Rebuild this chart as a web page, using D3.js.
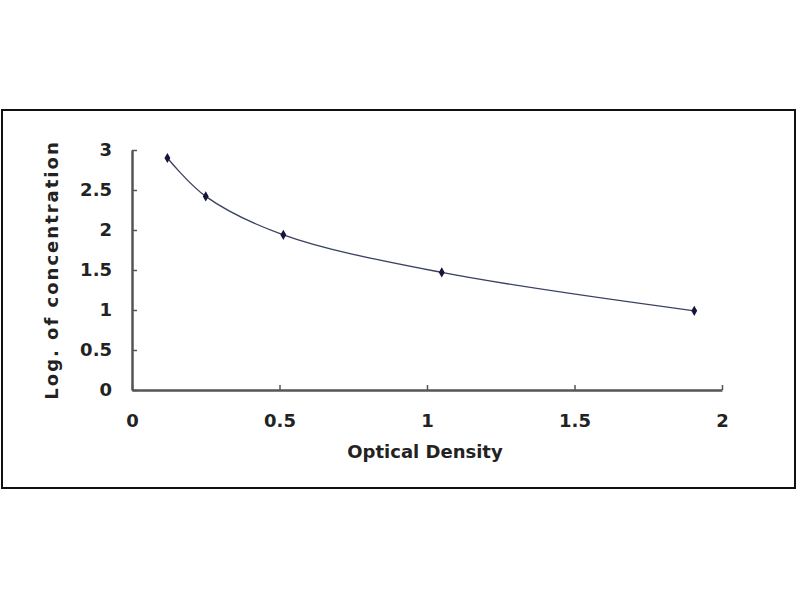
<!DOCTYPE html>
<html>
<head>
<meta charset="utf-8">
<script src="https://cdn.jsdelivr.net/npm/d3@7"></script>
<style>
  html, body { margin: 0; padding: 0; background: #fff; }
  text { font-family: "DejaVu Sans", Verdana, sans-serif; font-weight: bold; fill: #222; }
</style>
</head>
<body>
<div id="chart"></div>
<script>
// standard curve: optical density vs log of concentration
const od = [0.12, 0.25, 0.513, 1.05, 1.906];
const logConc = [2.9, 2.42, 1.94, 1.47, 0.99];
const xTicks = [0, 0.5, 1, 1.5, 2];
const yTicks = [0, 0.5, 1, 1.5, 2, 2.5, 3];

const width = 800, height = 600;
const margin = {top: 150, right: 78, bottom: 210, left: 132};

const svg = d3.select('#chart').append('svg')
  .attr('width', width)
  .attr('height', height);

// outer frame
svg.append('rect')
  .attr('x', 2).attr('y', 110)
  .attr('width', 793).attr('height', 378)
  .attr('fill', 'none')
  .attr('stroke', '#111')
  .attr('stroke-width', 2);

const scX = d3.scaleLinear()
  .domain([0, 2])
  .range([margin.left, width - margin.right]);

const scY = d3.scaleLinear()
  .domain([0, 3])
  .range([height - margin.bottom, margin.top]);

const xAxis = g => {
  g.attr('transform', `translate(0, ${height - margin.bottom})`)
    .call(d3.axisBottom(scX).tickValues(xTicks).tickFormat(d3.format('~g')).tickSizeInner(-5).tickSizeOuter(0).tickPadding(24))
    .call(g => g.select('.domain').attr('stroke', '#555').attr('stroke-width', 2.5))
    .call(g => g.selectAll('.tick line').attr('stroke', '#555').attr('stroke-width', 1.5))
    .call(g => g.selectAll('.tick text').attr('font-size', 18).attr('font-family', null).attr('fill', null));
};

const yAxis = g => {
  g.attr('transform', `translate(${margin.left}, 0)`)
    .call(d3.axisLeft(scY).tickValues(yTicks).tickFormat(d3.format('~g')).tickSizeInner(-5).tickSizeOuter(0).tickPadding(20))
    .call(g => g.select('.domain').attr('stroke', '#555').attr('stroke-width', 2.5))
    .call(g => g.selectAll('.tick line').attr('stroke', '#555').attr('stroke-width', 1.5))
    .call(g => g.selectAll('.tick text').attr('font-size', 18).attr('font-family', null).attr('fill', null));
};

svg.append('g').attr('class', 'xAxis').call(xAxis);
svg.append('g').attr('class', 'yAxis').call(yAxis);

svg.append('text')
  .attr('x', 425).attr('y', 458)
  .attr('text-anchor', 'middle')
  .attr('font-size', 18)
  .text('Optical Density');

svg.append('text')
  .attr('transform', 'translate(58, 270) rotate(-90)')
  .attr('text-anchor', 'middle')
  .attr('font-size', 18)
  .attr('letter-spacing', 2)
  .text('Log. of concentration');

const data = od.map((d, i) => ({x: d, y: logConc[i]}));

const line = d3.line()
  .x(d => scX(d.x))
  .y(d => scY(d.y))
  .curve(d3.curveCatmullRom.alpha(0.5));

svg.append('path')
  .datum(data)
  .attr('d', line)
  .attr('fill', 'none')
  .attr('stroke', '#3a4060')
  .attr('stroke-width', 1.3);

svg.append('g')
  .selectAll('path')
  .data(data)
  .join('path')
  .attr('transform', d => `translate(${scX(d.x)}, ${scY(d.y)})`)
  .attr('d', d3.symbol(d3.symbolDiamond, 30))
  .attr('fill', '#14143c');
</script>
</body>
</html>
